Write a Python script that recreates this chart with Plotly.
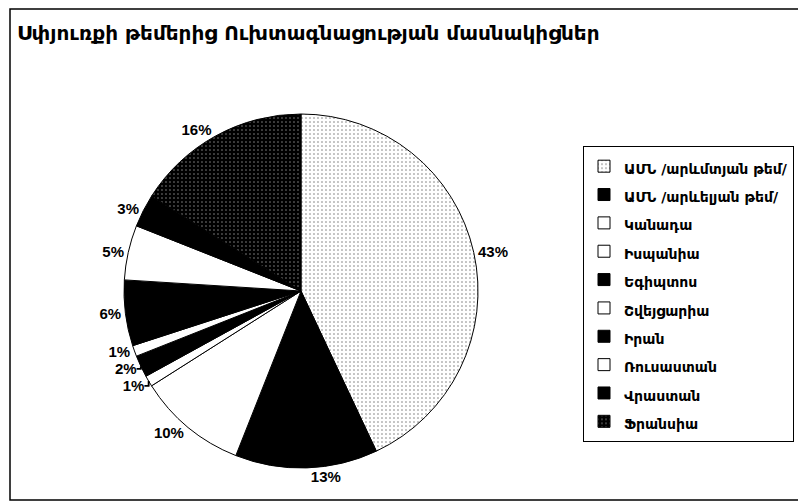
import plotly.graph_objects as go

title = "Սփյուռքի թեմերից Ուխտագնացության մասնակիցներ"
countries = [
    "ԱՄՆ /արևմտյան թեմ/",
    "ԱՄՆ /արևելյան թեմ/",
    "Կանադա",
    "Իսպանիա",
    "Եգիպտոս",
    "Շվեյցարիա",
    "Իրան",
    "Ռուսաստան",
    "Վրաստան",
    "Ֆրանսիա",
]
shares = [43, 13, 10, 1, 2, 1, 6, 5, 3, 16]

fills = ["white", "black", "white", "white", "black", "white", "black", "white", "black", "black"]
pattern_shapes = [".", "", "", "", "", "", "", "", "", "."]
pattern_fg = ["#777777", "black", "black", "black", "black", "black", "black", "black", "black", "#8a8a8a"]

legend_labels = [f"<span style='font-size:14px'>{c}</span>" for c in countries]

W, H = 798, 495  # page body has an 8px margin in the viewer

fig = go.Figure(
    go.Pie(
        labels=legend_labels,
        values=shares,
        sort=False,
        direction="clockwise",
        rotation=0,
        texttemplate="%{value}%",
        textposition="outside",
        textfont=dict(family="Liberation Sans, Arial, sans-serif", size=15, color="black", weight="bold"),
        marker=dict(
            colors=fills,
            line=dict(color="black", width=1),
            pattern=dict(shape=pattern_shapes, fgcolor=pattern_fg, bgcolor=fills,
                         size=4, solidity=0.12, fillmode="replace"),
        ),
        domain=dict(x=[116 / W, 470 / W], y=[35 / H, 389 / H]),
        hoverinfo="label+percent",
    )
)

fig.update_layout(
    width=W,
    height=H,
    margin=dict(l=0, r=0, t=0, b=0),
    paper_bgcolor="white",
    plot_bgcolor="white",
    title=dict(
        text=title,
        x=9 / W,
        xanchor="left",
        y=1 - 25 / H,
        yanchor="middle",
        font=dict(family="DejaVu Sans, sans-serif", size=20, color="black", weight="bold"),
    ),
    legend=dict(
        x=786 / W,
        xanchor="right",
        y=1 - 138 / H,
        yanchor="top",
        font=dict(family="DejaVu Sans, sans-serif", size=19.5, color="black", weight="bold"),
        bordercolor="black",
        borderwidth=1,
        bgcolor="white",
        itemwidth=30,
    ),
    shapes=[
        dict(type="rect", xref="paper", yref="paper",
             x0=2 / W, x1=792 / W, y0=3 / H, y1=1 - 1 / H,
             line=dict(color="black", width=1.5)),
    ],
)

fig.write_html("out.html")
